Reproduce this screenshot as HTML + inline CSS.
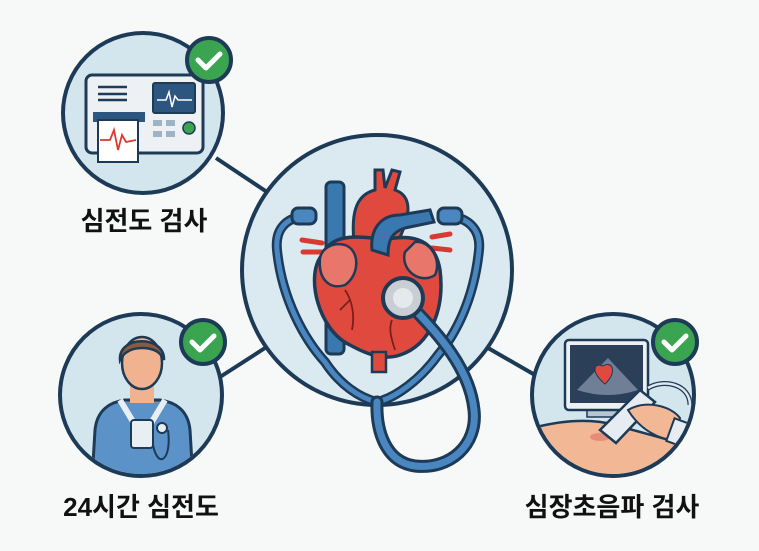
<!DOCTYPE html>
<html><head><meta charset="utf-8"><style>
html,body{margin:0;padding:0;background:#f7f9f8;}
svg{display:block}
text{font-family:"Liberation Sans","Noto Sans CJK KR",sans-serif;font-weight:700;fill:#111;}
</style></head><body>
<svg width="759" height="551" viewBox="0 0 759 551" xmlns="http://www.w3.org/2000/svg">
<rect width="759" height="551" fill="#f7f9f8"/>
<g stroke="#1d3a57" stroke-width="4">
<line x1="216" y1="158" x2="267" y2="192"/>
<line x1="220" y1="377" x2="265" y2="348"/>
<line x1="488" y1="348" x2="535" y2="375"/>
</g>
<!-- center circle -->
<circle cx="377" cy="270" r="135" fill="#dbeaf0" stroke="#1d3a57" stroke-width="4"/>
<!-- stethoscope binaural tubes -->
<g fill="none" stroke-linecap="round" stroke-linejoin="round">
<path d="M305 216 C285 218 275 230 277 250 C282 300 305 340 325 362 C340 385 360 398 377 402" stroke="#1d3a57" stroke-width="10"/>
<path d="M305 216 C285 218 275 230 277 250 C282 300 305 340 325 362 C340 385 360 398 377 402" stroke="#4a86bf" stroke-width="5"/>
<path d="M449 216 C469 218 481 230 479 250 C474 300 455 335 438 355 C420 380 395 398 377 402" stroke="#1d3a57" stroke-width="10"/>
<path d="M449 216 C469 218 481 230 479 250 C474 300 455 335 438 355 C420 380 395 398 377 402" stroke="#4a86bf" stroke-width="5"/>
</g>
<!-- heart -->
<rect x="326" y="182" width="18" height="172" rx="5" fill="#3a78b0" stroke="#1d3a57" stroke-width="3"/>
<path d="M355 250 C350 215 355 195 375 190 L375 170 L383 170 L385 188 L392 170 L400 172 L395 190 C410 195 410 210 405 225 L395 250 Z" fill="#e04a3e" stroke="#1d3a57" stroke-width="3"/>
<path d="M302 240 L322 243 M303 252 L322 252 M432 237 L450 234 M432 248 L450 250" stroke="#d83a32" stroke-width="5" stroke-linecap="round"/>
<path d="M322 255 C305 275 318 330 350 345 C370 356 385 360 400 355 C430 345 445 310 440 270 C436 245 420 235 395 238 C375 240 360 235 345 238 C332 240 325 248 322 255 Z" fill="#e04a3e" stroke="#1d3a57" stroke-width="3.5"/>
<path d="M320 258 C318 280 330 290 345 285 C360 275 360 250 345 245 C333 242 322 248 320 258 Z" fill="#e8766a" stroke="#1d3a57" stroke-width="2.5"/>
<path d="M405 252 C400 270 420 285 435 275 C442 260 430 240 415 242 Z" fill="#e8766a" stroke="#1d3a57" stroke-width="2.5"/>
<path d="M372 250 C370 230 380 215 400 215 L430 210 L434 222 L405 228 C392 232 388 240 388 255 Z" fill="#3a78b0" stroke="#1d3a57" stroke-width="3"/>
<path d="M345 290 C352 300 355 315 352 330 M350 300 L340 310 M392 320 C388 330 392 340 395 350" stroke="#7a1f1a" stroke-width="1.8" fill="none"/>
<rect x="372" y="352" width="14" height="20" fill="#e04a3e" stroke="#1d3a57" stroke-width="2.5"/>
<!-- earpieces -->
<rect x="292" y="208" width="24" height="16" rx="6" fill="#4a86bf" stroke="#1d3a57" stroke-width="3"/>
<rect x="438" y="208" width="24" height="16" rx="6" fill="#4a86bf" stroke="#1d3a57" stroke-width="3"/>
<!-- main tube loop -->
<g fill="none" stroke-linecap="round">
<path d="M377 402 C376 430 385 462 415 466 C450 470 478 445 474 410 C470 370 440 335 410 305" stroke="#1d3a57" stroke-width="13"/>
<path d="M377 402 C376 430 385 462 415 466 C450 470 478 445 474 410 C470 370 440 335 410 305" stroke="#4a86bf" stroke-width="7"/>
</g>
<circle cx="403" cy="298" r="20" fill="#c8ced4" stroke="#1d3a57" stroke-width="4"/>
<circle cx="403" cy="298" r="10" fill="#e6e9ec"/>

<!-- ECG circle -->
<circle cx="143" cy="113" r="80" fill="#d3e6ee" stroke="#1d3a57" stroke-width="4"/>
<rect x="86" y="75" width="117" height="78" rx="6" fill="#eef1f3" stroke="#1d3a57" stroke-width="3"/>
<rect x="153" y="83" width="42" height="30" rx="2" fill="#2c5580" stroke="#1d3a57" stroke-width="2"/>
<path d="M157 100 H166 L169 92 L172 107 L175 96 L178 100 H192" stroke="#fff" stroke-width="1.5" fill="none"/>
<g stroke="#1d3a57" stroke-width="2.5"><line x1="98" y1="87" x2="127" y2="87"/><line x1="98" y1="94" x2="127" y2="94"/><line x1="98" y1="100" x2="127" y2="100"/></g>
<rect x="93" y="112" width="52" height="10" fill="#2c5580"/>
<rect x="98" y="120" width="40" height="42" fill="#fff" stroke="#1d3a57" stroke-width="2"/>
<path d="M100 140 H110 L114 130 L118 150 L122 135 L126 142 L136 140" stroke="#d83a32" stroke-width="1.8" fill="none"/>
<g fill="#9db3c6"><rect x="153" y="120" width="9" height="6"/><rect x="166" y="120" width="9" height="6"/><rect x="153" y="131" width="9" height="6"/><rect x="166" y="131" width="9" height="6"/></g>
<circle cx="189" cy="128" r="6" fill="#3aa451" stroke="#1d3a57" stroke-width="1.5"/>
<circle cx="209" cy="60" r="22" fill="#3aa451" stroke="#1d3a57" stroke-width="4"/>
<path d="M198 60 L206 68 L220 54" stroke="#fff" stroke-width="5" fill="none" stroke-linecap="round" stroke-linejoin="round"/>
<text x="144" y="230" font-size="26" text-anchor="middle">심전도 검사</text>

<!-- person circle -->
<circle cx="141" cy="395" r="81" fill="#d3e6ee" stroke="#1d3a57" stroke-width="4"/>
<clipPath id="cp1"><circle cx="141" cy="395" r="79"/></clipPath>
<g clip-path="url(#cp1)">
<path d="M92 480 L95 430 C97 410 110 402 125 400 L160 400 C175 402 188 410 190 430 L193 480 Z" fill="#5b93c8" stroke="#1d3a57" stroke-width="3"/>
<rect x="130" y="383" width="24" height="20" fill="#f1b28f"/>
<ellipse cx="142" cy="363" rx="20" ry="26" fill="#f1b28f" stroke="#1d3a57" stroke-width="2.5"/>
<path d="M120 360 C118 335 165 335 164 360 C160 350 150 348 142 348 C132 348 124 352 120 360 Z" fill="#8a5a3a" stroke="#1d3a57" stroke-width="2.5"/>
<path d="M120 400 L135 425 M165 400 L150 425" stroke="#e8eef2" stroke-width="6"/>
<rect x="131" y="420" width="22" height="28" rx="3" fill="#e8eef2" stroke="#1d3a57" stroke-width="2"/>
<path d="M153 445 C158 470 172 460 168 430" stroke="#1d3a57" stroke-width="2" fill="none"/>
<circle cx="162" cy="428" r="5" fill="#e8eef2" stroke="#1d3a57" stroke-width="2"/>
</g>
<circle cx="203" cy="342" r="22" fill="#3aa451" stroke="#1d3a57" stroke-width="4"/>
<path d="M192 342 L200 350 L214 336" stroke="#fff" stroke-width="5" fill="none" stroke-linecap="round" stroke-linejoin="round"/>
<text x="141" y="516" font-size="26" text-anchor="middle">24시간 심전도</text>

<!-- echo circle -->
<circle cx="613" cy="395" r="81" fill="#d3e6ee" stroke="#1d3a57" stroke-width="4"/>
<clipPath id="cp2"><circle cx="613" cy="395" r="79"/></clipPath>
<g clip-path="url(#cp2)">
<rect x="587" y="408" width="40" height="9" fill="#b8c6d2" stroke="#1d3a57" stroke-width="1.5"/>
<rect x="565" y="340" width="83" height="70" rx="4" fill="#eef1f3" stroke="#1d3a57" stroke-width="2.5"/>
<rect x="570" y="345" width="73" height="58" fill="#2c3f58"/>
<path d="M608 358 L577 390 Q608 400 638 390 Z" fill="#8a9bb0" opacity="0.7"/>
<path d="M605 384 C590 372 594 362 603 366 C612 360 618 372 605 384 Z" fill="#e04a3e" stroke="#1d3a57" stroke-width="1"/>
<path d="M525 430 C560 420 590 418 615 425 C650 435 690 445 700 450 L700 480 L525 480 Z" fill="#f2b896" stroke="#1d3a57" stroke-width="2.5"/>
<ellipse cx="600" cy="437" rx="10" ry="4" fill="#e07a6e" opacity="0.7"/>
<path d="M648 388 C665 378 690 385 690 405" stroke="#1d3a57" stroke-width="5" fill="none"/>
<path d="M648 388 C665 378 690 385 690 405" stroke="#dfe6ec" stroke-width="2.5" fill="none"/>
<path d="M600 430 L640 390 L655 402 L616 443 Z" fill="#e6ecf1" stroke="#1d3a57" stroke-width="2.5"/>
<path d="M628 410 C645 400 670 405 680 418 L675 440 C660 440 640 430 628 410 Z" fill="#f2b896" stroke="#1d3a57" stroke-width="2"/>
<rect x="670" y="420" width="14" height="24" fill="#e6ecf1" stroke="#1d3a57" stroke-width="2" transform="rotate(20 677 432)"/>
</g>
<circle cx="675" cy="342" r="22" fill="#3aa451" stroke="#1d3a57" stroke-width="4"/>
<path d="M664 342 L672 350 L686 336" stroke="#fff" stroke-width="5" fill="none" stroke-linecap="round" stroke-linejoin="round"/>
<text x="612" y="516" font-size="26" text-anchor="middle">심장초음파 검사</text>
</svg>
</body></html>
